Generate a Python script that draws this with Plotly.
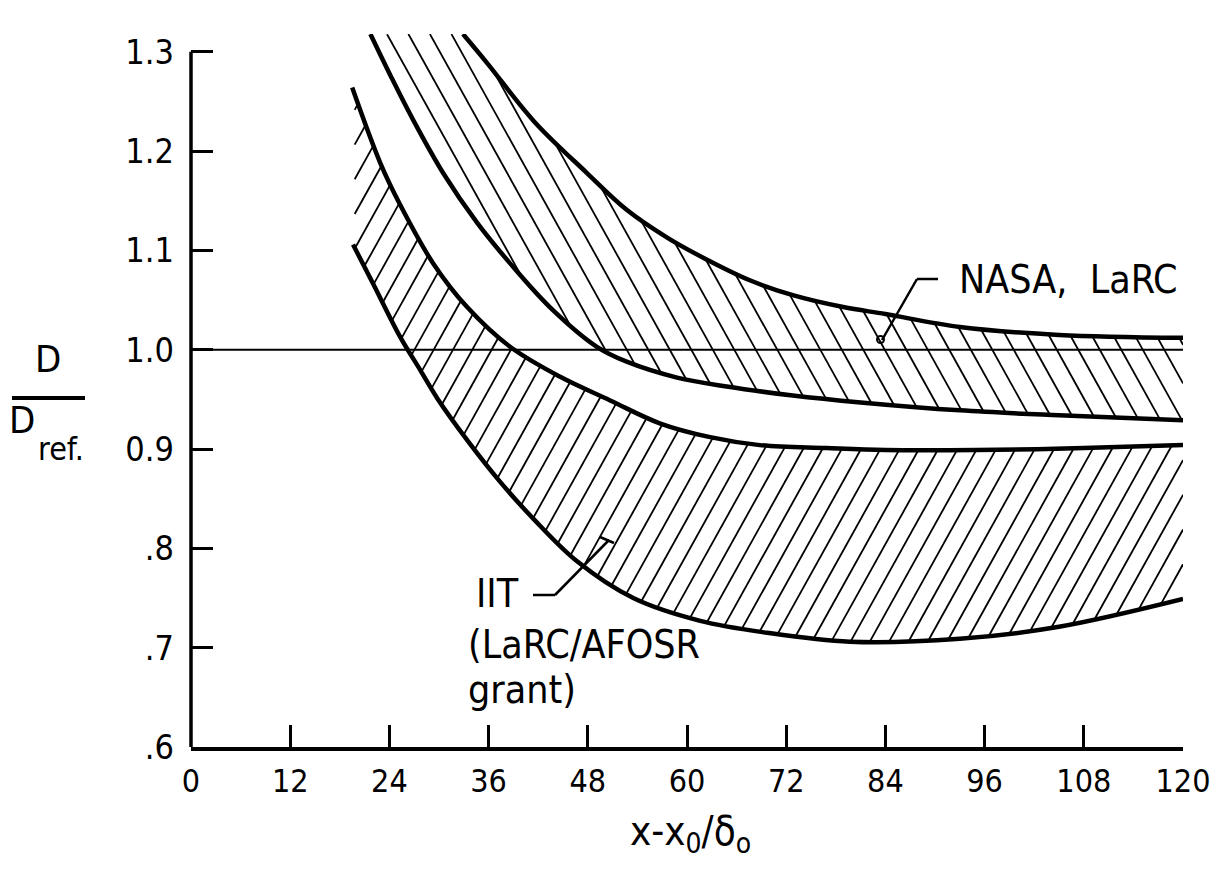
import numpy as np
import plotly.graph_objects as go

# ---------------- data ----------------
x_ticks = [0, 12, 24, 36, 48, 60, 72, 84, 96, 108, 120]
y_ticks = [0.6, 0.7, 0.8, 0.9, 1.0, 1.1, 1.2, 1.3]
y_tick_text = [".6", ".7", ".8", "0.9", "1.0", "1.1", "1.2", "1.3"]

nasa_upper_x = [32.9, 35.8, 41.5, 47.9, 52.7, 57.6, 61.9, 67.6, 72.8, 78.9, 84, 93, 105, 120]
nasa_upper_y = [1.318, 1.289, 1.230, 1.178, 1.141, 1.113, 1.093, 1.070, 1.055, 1.043, 1.036, 1.023, 1.015, 1.012]

nasa_lower_x = [21.7, 24.2, 26.9, 30.5, 34.6, 38.6, 43.4, 49.1, 52.7, 58.8, 64.8, 72.8, 81, 93, 105, 120]
nasa_lower_y = [1.318, 1.275, 1.231, 1.178, 1.128, 1.087, 1.043, 1.003, 0.988, 0.972, 0.963, 0.954, 0.947, 0.939, 0.934, 0.929]

iit_upper_x = [19.5, 22.9, 25.3, 29.3, 33.4, 38.6, 44.6, 50.7, 56.7, 62.8, 68.8, 76.9, 84, 95, 108, 120]
iit_upper_y = [1.264, 1.188, 1.146, 1.087, 1.043, 1.003, 0.973, 0.949, 0.926, 0.912, 0.904, 0.901, 0.899, 0.899, 0.901, 0.904]

iit_lower_x = [19.6, 22.0, 25.3, 27.7, 29.8, 33.5, 37.4, 41.4, 46.7, 53.5, 61.6, 69.7, 79.7, 93, 105, 120]
iit_lower_y = [1.106, 1.067, 1.013, 0.980, 0.951, 0.908, 0.867, 0.830, 0.787, 0.750, 0.727, 0.715, 0.706, 0.709, 0.721, 0.749]

ref_line_x = [0, 120]
ref_line_y = [1.0, 1.0]

# ---------------- layout geometry ----------------
OFF = 8                      # page margin of the html body
W, H = 1218 - 2 * OFF, 876 - 2 * OFF
L, R, T, B = 183, 27, 26, 121
PW, PH = W - L - R, H - T - B
Y_TOP = 1.318
X_RANGE = [0, 120]
Y_RANGE = [0.6, Y_TOP]
SX = PW / (X_RANGE[1] - X_RANGE[0])
SY = PH / (Y_RANGE[1] - Y_RANGE[0])

FONT = "Liberation Sans Narrow, DejaVu Sans Condensed, Arial Narrow, sans-serif"


def px(xp):
    """page pixel x -> paper coordinate"""
    return (xp - OFF - L) / PW


def py(yp):
    """page pixel y -> paper coordinate"""
    return (H - B - (yp - OFF)) / PH


def hatch(lo_x, lo_y, hi_x, hi_y, x0, x1, top, pix_slope, pix_spacing):
    """Hatch segments clipped between two boundary curves."""
    m = pix_slope * SX / SY
    dx = pix_spacing / SX
    xg = np.linspace(x0, x1, 4000)
    lo = np.interp(xg, lo_x, lo_y)
    hi = np.minimum(np.interp(xg, hi_x, hi_y, left=top), top)
    cmin = np.min(lo - m * xg)
    cmax = np.max(hi - m * xg)
    dc = abs(m) * dx
    xs, ys = [], []
    for c in np.arange(cmin, cmax, dc):
        yl = m * xg + c
        ins = (yl >= lo) & (yl <= hi)
        if not ins.any():
            continue
        d = np.diff(ins.astype(int))
        starts = list(np.where(d == 1)[0] + 1)
        ends = list(np.where(d == -1)[0])
        if ins[0]:
            starts = [0] + starts
        if ins[-1]:
            ends = ends + [len(xg) - 1]
        for s, e in zip(starts, ends):
            if e > s:
                xs += [xg[s], xg[e], None]
                ys += [yl[s], yl[e], None]
    return xs, ys


fig = go.Figure()

nx, ny = hatch(nasa_lower_x, nasa_lower_y, nasa_upper_x, nasa_upper_y,
               nasa_lower_x[0], 120, Y_TOP, -1.8, 21.5)
ix, iy = hatch(iit_lower_x, iit_lower_y, iit_upper_x, iit_upper_y,
               19.8, 120, Y_TOP, 1.8, 19.3)
for hx, hy in [(nx, ny), (ix, iy)]:
    fig.add_trace(go.Scatter(x=hx, y=hy, mode="lines",
                             line=dict(color="black", width=1.8),
                             hoverinfo="skip", showlegend=False))

for cx, cy in [(nasa_upper_x, nasa_upper_y), (nasa_lower_x, nasa_lower_y),
               (iit_upper_x, iit_upper_y), (iit_lower_x, iit_lower_y)]:
    fig.add_trace(go.Scatter(x=cx, y=cy, mode="lines",
                             line=dict(color="black", width=4.5, shape="spline", smoothing=1.0),
                             hoverinfo="skip", showlegend=False))

fig.add_trace(go.Scatter(x=ref_line_x, y=ref_line_y, mode="lines",
                         line=dict(color="black", width=2),
                         hoverinfo="skip", showlegend=False))

shapes = [
    # y axis line from .6 to 1.3
    dict(type="line", xref="paper", yref="paper", x0=0, x1=0,
         y0=0, y1=(1.3 - Y_RANGE[0]) / (Y_RANGE[1] - Y_RANGE[0]),
         line=dict(color="black", width=3.5)),
    # fraction bar of the y title
    dict(type="line", xref="paper", yref="paper", x0=px(12), x1=px(85),
         y0=py(398), y1=py(398), line=dict(color="black", width=4)),
    # NASA leader
    dict(type="line", xref="paper", yref="paper", x0=px(917), x1=px(938),
         y0=py(279), y1=py(279), line=dict(color="black", width=2.5)),
    dict(type="line", xref="paper", yref="paper", x0=px(917), x1=px(882),
         y0=py(279), y1=py(340), line=dict(color="black", width=2.5)),
    dict(type="circle", xref="paper", yref="paper", x0=px(877), x1=px(884),
         y0=py(343), y1=py(336), line=dict(color="black", width=2)),
    # IIT leader
    dict(type="line", xref="paper", yref="paper", x0=px(533), x1=px(555),
         y0=py(595), y1=py(595), line=dict(color="black", width=2.5)),
    dict(type="line", xref="paper", yref="paper", x0=px(555), x1=px(609),
         y0=py(595), y1=py(540), line=dict(color="black", width=2.5)),
    dict(type="line", xref="paper", yref="paper", x0=px(600), x1=px(614),
         y0=py(537), y1=py(543), line=dict(color="black", width=2.5)),
]

annotations = [
    dict(text="D", x=px(48), y=py(359), xanchor="center", yanchor="middle",
         font=dict(size=38)),
    dict(text="D", x=px(22), y=py(420), xanchor="center", yanchor="middle",
         font=dict(size=38)),
    dict(text="ref.", x=px(36), y=py(449), xanchor="left", yanchor="middle",
         font=dict(size=32)),
    dict(text="x-x<sub>0</sub>/δ<sub>o</sub>", x=px(690), y=py(834),
         xanchor="center", yanchor="middle", font=dict(size=40)),
    dict(text="NASA,  LaRC", x=px(957), y=py(279), xanchor="left", yanchor="middle",
         font=dict(size=39)),
    dict(text="IIT", x=px(474), y=py(593), xanchor="left", yanchor="middle",
         font=dict(size=39)),
    dict(text="(LaRC/AFOSR", x=px(466), y=py(644), xanchor="left", yanchor="middle",
         font=dict(size=39)),
    dict(text="grant)", x=px(466), y=py(689), xanchor="left", yanchor="middle",
         font=dict(size=39)),
]
for a in annotations:
    a.update(xref="paper", yref="paper", showarrow=False)

fig.update_layout(
    width=W, height=H,
    margin=dict(l=L, r=R, t=T, b=B, pad=0, autoexpand=False),
    paper_bgcolor="white", plot_bgcolor="white",
    font=dict(family=FONT, color="black", size=38),
    shapes=shapes, annotations=annotations,
    showlegend=False,
    xaxis=dict(range=X_RANGE, tickvals=x_ticks, ticktext=[str(v) for v in x_ticks],
               ticks="inside", ticklen=22, tickwidth=2.5, tickcolor="black",
               showline=True, linewidth=3.5, linecolor="black",
               showgrid=False, zeroline=False, ticklabelstandoff=3,
               ticklabeloverflow="allow", automargin=False,
               tickfont=dict(size=32, family=FONT)),
    yaxis=dict(range=Y_RANGE, tickvals=y_ticks, ticktext=y_tick_text,
               ticks="inside", ticklen=22, tickwidth=2.5, tickcolor="black",
               showline=False, showgrid=False, zeroline=False, ticklabelstandoff=16,
               ticklabeloverflow="allow", automargin=False,
               tickfont=dict(size=34, family=FONT)),
)

fig.write_html("out.html")
